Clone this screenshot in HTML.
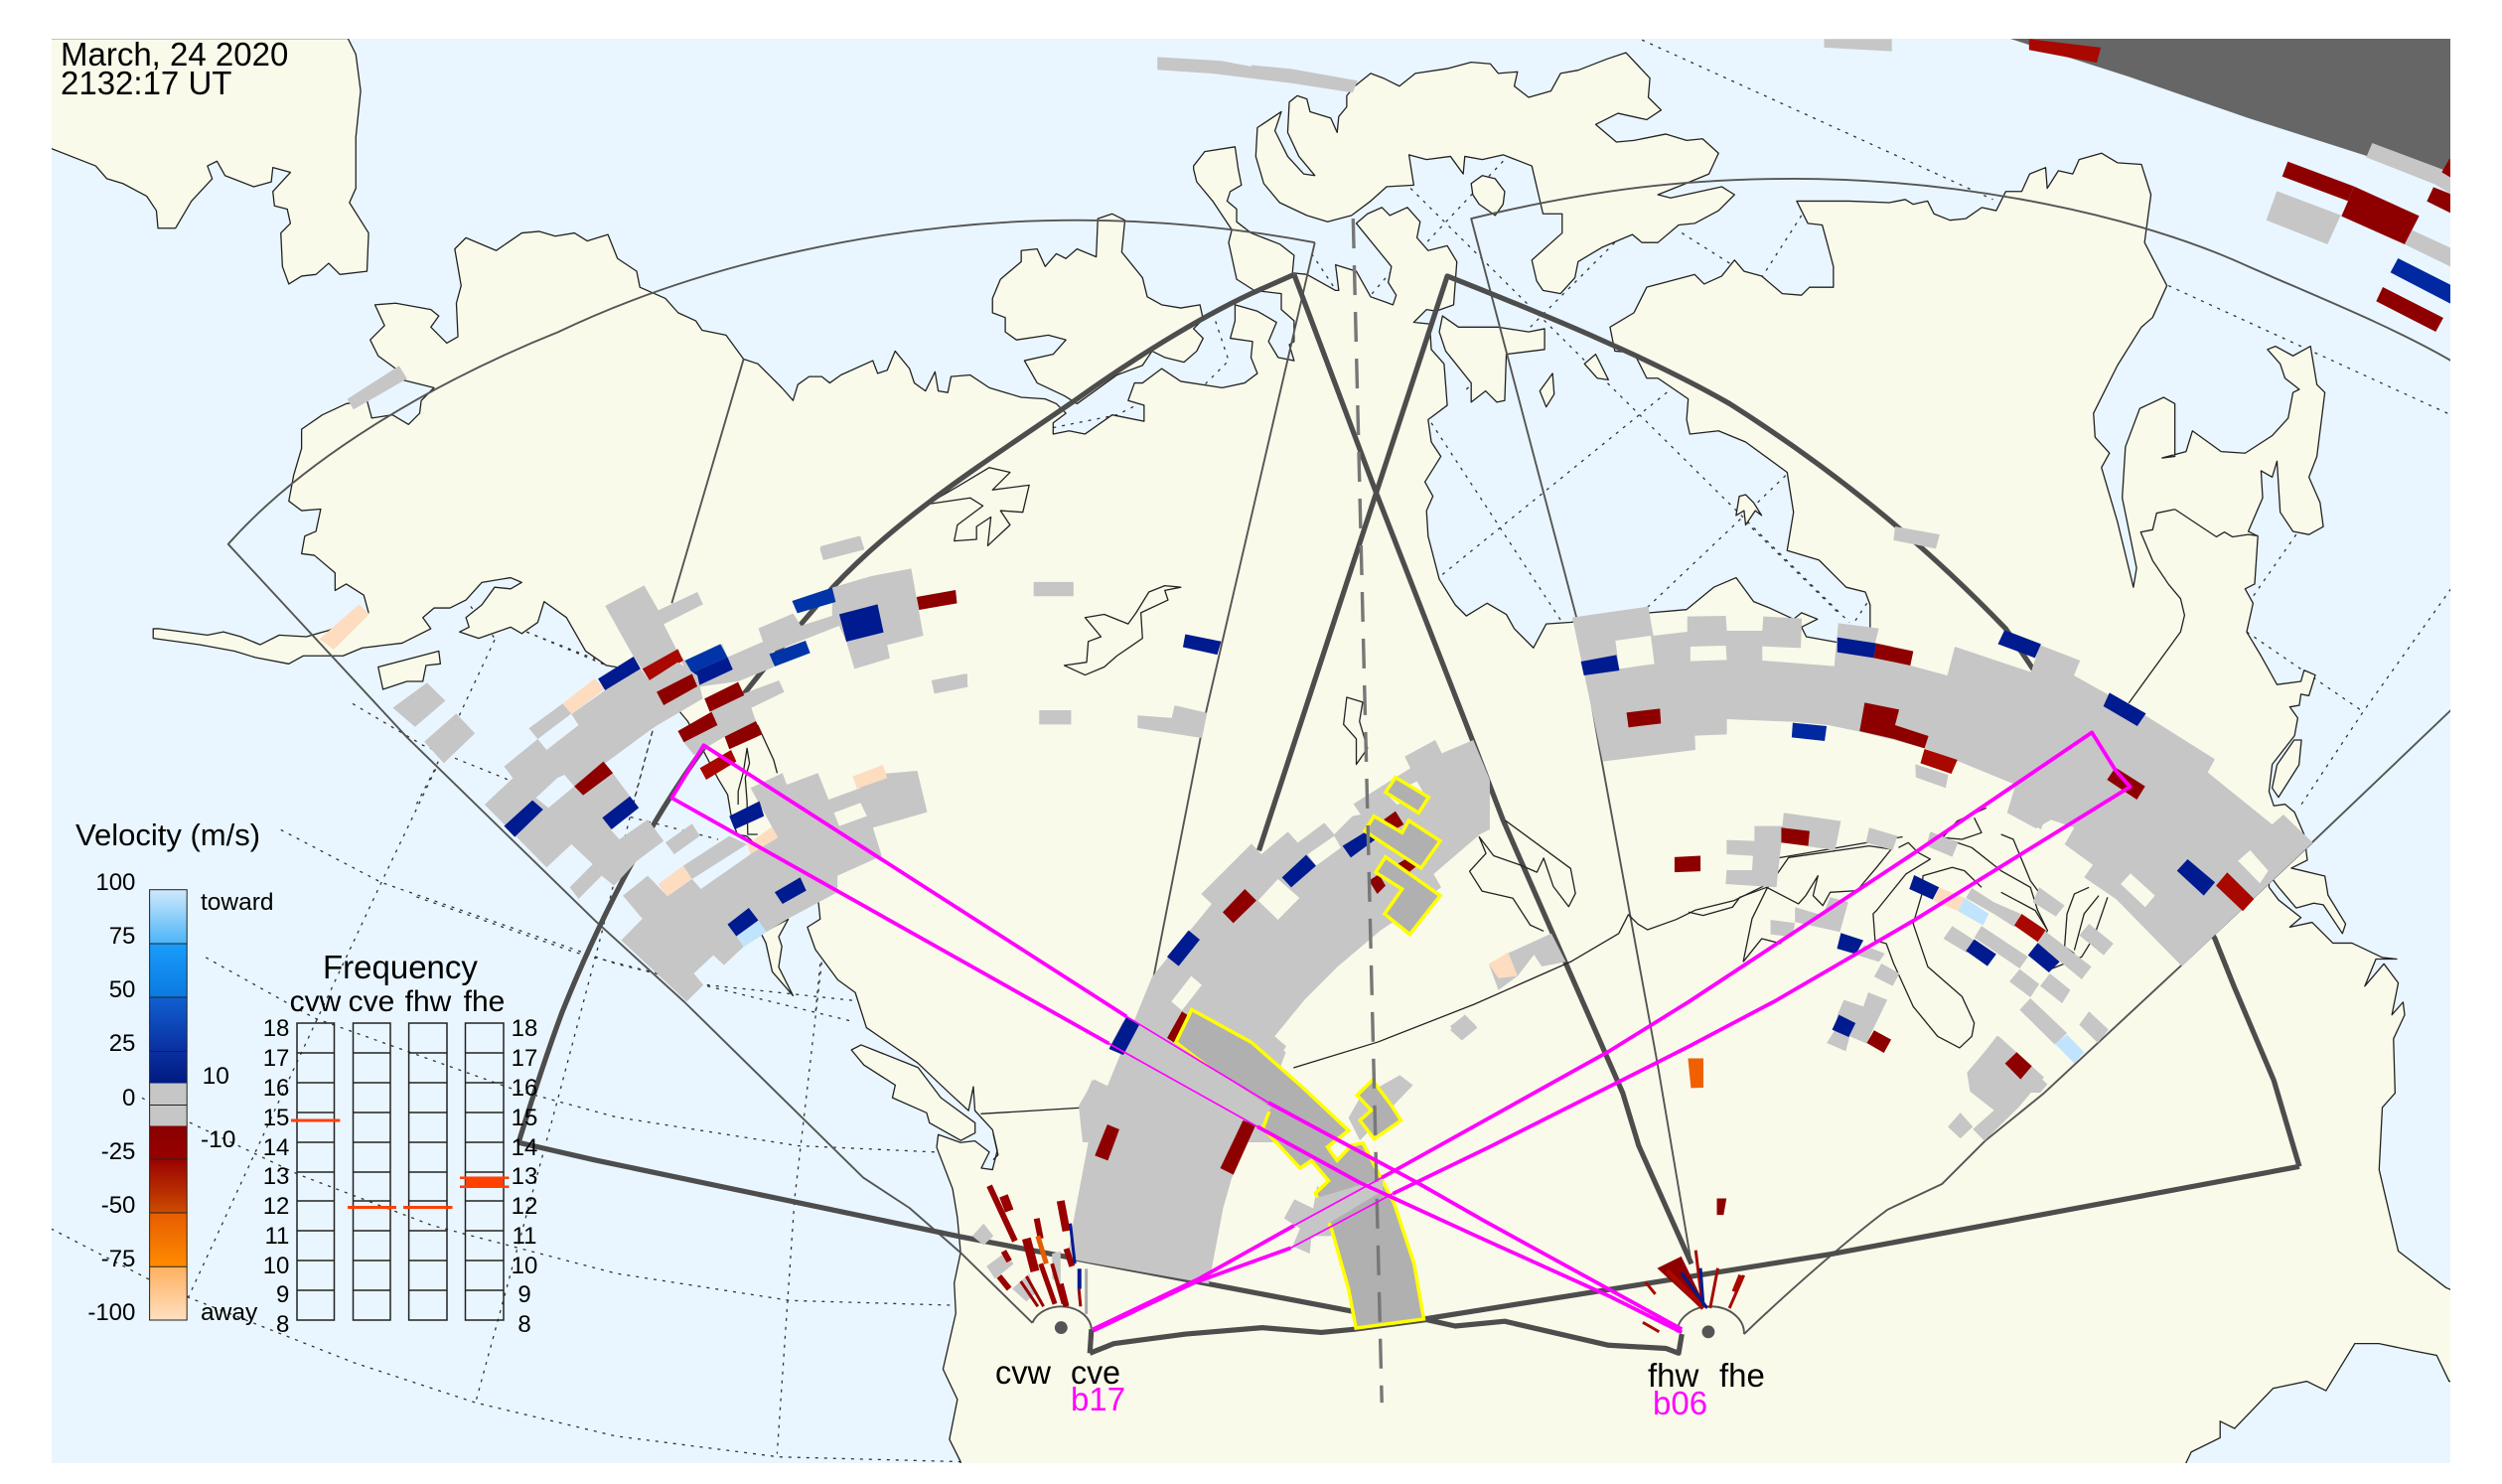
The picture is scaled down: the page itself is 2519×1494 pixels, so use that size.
<!DOCTYPE html>
<html><head><meta charset="utf-8"><title>SuperDARN map</title>
<style>
html,body{margin:0;padding:0;background:#fff}
svg{display:block}
text{font-family:"Liberation Sans",sans-serif;fill:#000}
polygon,polyline,path,line,circle,ellipse{vector-effect:non-scaling-stroke}
.g{fill:#c6c6c6}.r{fill:#8e0000}.r2{fill:#a80800}.b{fill:#001a8f}.m{fill:#0034a8}.p{fill:#fddcc0}.l{fill:#c0e4fd}.h{fill:#f9faea}.w{fill:#e9f6ff}
.y{fill:#b0b0b0;stroke:#ff0;stroke-width:3.5;stroke-linejoin:miter}
.land{fill:#f9faea;stroke:#222;stroke-width:1.3;stroke-linejoin:round}
.ln{fill:none;stroke:#222;stroke-width:1.3;stroke-linejoin:round}
.grid{fill:none;stroke:#333;stroke-width:1.3;stroke-dasharray:3 6}
.thin{fill:none;stroke:#555;stroke-width:1.9;stroke-linejoin:round}
.thick{fill:none;stroke:#4d4d4d;stroke-width:5.2;stroke-linejoin:round}
.mag{fill:none;stroke:#f0f;stroke-width:3.8;stroke-linejoin:round}
.mag2{fill:none;stroke:#f0f;stroke-width:1.7}
.v{fill:none;stroke:#990000}
</style></head><body>
<svg xmlns="http://www.w3.org/2000/svg" width="2519" height="1494" viewBox="0 0 2519 1494">
<defs>
<clipPath id="c"><rect x="52" y="39" width="2415" height="1434"/></clipPath>
<linearGradient id="vg" x1="0" y1="0" x2="0" y2="1">
<stop offset="0" stop-color="#cfe9fc"/><stop offset=".124" stop-color="#4db5f7"/><stop offset=".124" stop-color="#1a9dfb"/><stop offset=".25" stop-color="#0a7ae0"/><stop offset=".25" stop-color="#1060d0"/><stop offset=".376" stop-color="#0a2fa0"/><stop offset=".45" stop-color="#001a80"/><stop offset=".45" stop-color="#c6c6c6"/><stop offset=".549" stop-color="#c6c6c6"/><stop offset=".549" stop-color="#880000"/><stop offset=".625" stop-color="#990000"/><stop offset=".75" stop-color="#cc4c00"/><stop offset=".75" stop-color="#e65c00"/><stop offset=".876" stop-color="#ff8c00"/><stop offset=".876" stop-color="#ffb060"/><stop offset="1" stop-color="#ffe0c0"/>
</linearGradient>
</defs>
<rect width="2519" height="1494" fill="#fff"/>
<g clip-path="url(#c)">
<rect x="52" y="39" width="2415" height="1434" class="w"/>
<g transform="scale(1.6065)">
<!-- grid -->
<polyline class="grid" points="176,520 239,553 386,604 534,640"/>
<polyline class="grid" points="129,600 197,638 323,683 386,700 500,718 587,722"/>
<polyline class="grid" points="89,688 118,703 187,736 271,768 386,798 495,815 598,818"/>
<polyline class="grid" points="32,770 94,802 118,813 222,854 298,879 386,900 488,913 602,916"/>
<polyline class="grid" points="273,482 239,553 185,668 118,813"/>
<polyline class="grid" points="409,458 395,511 377,585 349,691 320,798 298,879"/>
<polyline class="grid" points="515,603 498,751 487,911"/>
<polyline class="grid" points="221,441 265,467 317,488 361,510 395,512 450,526"/>
<polyline class="grid" points="310,401 288,448 272,483 261,504"/>
<polyline class="grid" points="330,396 373,413"/>
<polyline class="grid" points="410,454 395,510"/>
<polyline class="grid" points="261,562 361,597 408,609 441,617 535,627"/>
<polyline class="grid" points="514,604 511,635"/>
<polyline class="grid" points="295,380 310,400"/>
<polyline class="grid" points="330,396 380,417"/>
<polyline class="grid" points="1029,25 1249,125"/>
<polyline class="grid" points="1359,179 1536,260"/>
<polyline class="grid" points="1439,335 1409,378"/>
<polyline class="grid" points="1536,369 1481,446 1441,506"/>
<polyline class="grid" points="1408,396 1481,446"/>
<polyline class="grid" points="897,265 979,390"/>
<polyline class="grid" points="904,360 1047,244"/>
<polyline class="grid" points="919,244 959,205 1012,152"/>
<polyline class="grid" points="942,101 894,152"/>
<polyline class="grid" points="884,118 1159,390"/>
<polyline class="grid" points="1054,146 1084,165"/>
<polyline class="grid" points="1129,135 1104,174"/>
<polyline class="grid" points="1119,298 1089,327 1032,381"/>
<polyline class="grid" points="1094,327 1152,384"/>
<polyline class="grid" points="1170,378 1156,399"/>
<polyline class="grid" points="822,159 836,180"/>
<polyline class="grid" points="872,170 859,185"/>
<polyline class="grid" points="760,196 770,226 755,241"/>
<polyline class="grid" points="660,268 700,260 712,254"/>
<!-- land -->
<polygon class="land" points="32,93 60,104 67,112 77,115 92,123 98,132 99,143 110,143 120,126 133,112 130,104 136,101 141,110 159,117 170,114 171,105 182,108 171,120 172,129 180,131 182,140 176,146 177,167 181,178 189,173 198,172 206,165 213,172 230,170 231,146 219,127 223,118 223,86 226,57 223,34 218,24 20,24 20,93"/>
<polygon class="land" points="285,156 292,149 311,157 327,146 338,145 348,148 360,146 368,151 381,147 387,162 399,170 401,180 417,187 425,196 436,201 440,207 455,210 466,225 475,228 490,243 497,251 500,241 507,236 515,236 520,240 527,235 547,226 550,234 556,232 561,220 570,231 573,240 580,245 586,233 588,245 594,246 596,236 608,235 620,243 640,249 655,250 662,253 668,259 660,265 660,272 670,270 680,272 697,260 717,264 717,254 707,251 711,240 716,240 728,231 740,239 766,243 780,240 788,234 784,224 785,214 771,212 774,201 774,191 788,195 800,202 795,214 801,224 811,226 808,216 811,214 811,201 803,194 803,184 786,182 775,175 770,152 772,144 760,126 750,114 748,106 748,104 755,95 774,92 776,106 778,116 771,120 769,126 775,131 775,139 784,146 802,153 811,160 810,171 819,172 837,182 839,182 837,166 850,170 859,186 873,191 875,185 870,177 872,167 850,140 857,134 866,130 871,135 882,130 890,139 888,149 895,157 907,154 913,164 911,191 900,195 894,194 886,202 896,203 897,219 905,228 907,254 895,263 897,277 903,286 893,302 898,311 894,320 895,336 902,363 912,379 919,386 932,378 944,385 949,394 961,406 969,391 984,390 1034,384 1057,382 1074,368 1088,362 1099,377 1109,381 1124,388 1129,384 1139,388 1129,393 1132,399 1154,403 1172,400 1172,379 1169,371 1157,368 1140,351 1120,345 1124,321 1120,296 1094,277 1077,270 1059,272 1057,263 1058,250 1039,237 1032,237 1024,221 1012,220 1009,205 1024,196 1032,180 1062,172 1068,178 1079,173 1087,163 1093,170 1104,173 1117,184 1129,185 1134,180 1149,180 1149,167 1145,152 1142,141 1133,140 1126,126 1159,126 1184,127 1194,125 1199,128 1208,126 1212,134 1222,138 1232,137 1242,130 1251,132 1257,120 1267,120 1272,109 1282,105 1283,118 1290,107 1299,109 1303,100 1317,96 1327,102 1342,103 1348,122 1344,152 1358,179 1349,199 1342,205 1327,229 1312,259 1313,274 1322,284 1317,293 1327,327 1337,368 1339,356 1330,312 1332,280 1341,256 1356,249 1363,253 1363,286 1355,287 1370,283 1374,270 1392,283 1407,284 1424,273 1434,262 1437,246 1441,244 1432,237 1429,228 1421,219 1426,217 1437,223 1448,217 1452,241 1457,246 1452,286 1447,299 1454,315 1456,330 1447,335 1437,333 1429,321 1427,289 1424,299 1417,295 1418,312 1409,333 1415,336 1413,366 1407,369 1412,378 1408,396 1417,411 1422,420 1427,429 1442,427 1444,420 1451,423 1447,436 1442,435 1441,442 1435,443 1440,450 1438,461 1424,479 1422,496 1425,505 1432,504 1438,509 1444,523 1446,539 1436,544 1457,549 1459,561 1470,579 1468,585 1456,567 1450,566 1439,569 1428,556 1422,548 1422,556 1428,564 1442,575 1435,581 1449,578 1462,591 1474,591 1493,600 1502,601 1489,601 1482,618 1494,604 1503,616 1499,636 1506,628 1507,636 1500,651 1501,685 1493,694 1491,733 1503,784 1533,807 1545,812 1545,930 602,930 602,916 595,902 600,877 591,858 599,823 598,804 602,785 600,763 597,745 587,719 588,711 602,716 611,715 620,722 615,732 622,733 625,721 622,708 611,696 610,681 607,696 595,685 575,666 559,655 543,644 536,622 525,614 511,595 506,581 514,576 513,566 485,540 468,524 462,523 458,510 456,498 450,488 439,467 431,452 426,446 386,418 380,417 367,408 355,387 341,377 337,390 327,397 320,393 300,400 288,396 294,393 292,387 302,379 310,368 320,369 327,365 320,362 302,365 292,376 282,381 272,381 265,387 270,394 252,403 227,406 215,411 190,411 181,416 160,412 147,408 125,404 96,400 96,394 100,394 130,398 140,396 151,399 163,404 175,398 192,399 206,395 231,384 228,373 217,366 210,370 210,359 197,348 189,347 191,336 198,333 201,319 189,320 181,314 184,298 189,281 189,269 202,260 217,253 230,251 233,262 246,260 256,266 263,259 264,251 272,243 252,238 248,231 237,223 232,213 241,204 235,191 248,190 270,194 275,198 270,205 280,215 287,211 286,190 289,179"/>
<polygon class="land" points="844,60 849,54 859,46 867,49 877,54 887,46 907,43 922,39 934,40 939,46 951,45 949,54 958,61 972,57 978,46 989,44 1007,37 1019,33 1034,49 1033,61 1041,69 1032,75 1014,71 1000,78 1013,89 1024,88 1044,84 1057,88 1067,87 1077,96 1071,109 1054,116 1039,122 1047,124 1079,117 1087,122 1077,132 1062,140 1052,141 1039,152 1029,152 1023,147 1004,155 989,164 987,174 978,184 967,182 963,176 960,163 979,146 979,134 967,134 960,104 942,97 929,100 918,98 917,109 909,98 894,100 883,97 886,116 869,117 859,126 847,135 832,139 819,135 802,127 792,115 787,98 788,80 803,70 799,82 807,98 817,109 824,110 814,98 807,83 808,64 813,60 819,62 821,70 834,74 838,83 839,73 844,67"/>
<polygon class="land" points="752,191 754,200 748,206 754,212 750,220 742,227 730,224 722,220 716,229 700,235 675,253 667,248 650,240 642,226 660,222 668,213 657,210 637,213 630,208 630,199 622,196 622,187 627,175 640,164 640,157 650,156 655,167 662,159 668,162 675,156 687,161 688,137 697,134 705,138 703,158 716,174 719,186 728,191 740,193"/>
<polygon class="land" points="904,198 914,205 939,205 958,208 968,206 968,219 944,222 943,251 938,252 931,245 922,252 922,240 906,220 902,208"/>
<polygon class="land" points="922,115 929,110 937,112 943,120 942,128 937,135 927,128 923,122"/>
<polygon class="land" points="1000,222 1008,238 1001,237 993,228"/>
<polygon class="land" points="973,234 974,247 969,255 965,245"/>
<polygon class="land" points="1094,310 1099,315 1104,323 1100,320 1094,329 1093,320 1088,323 1090,311"/>
<polygon class="land" points="237,418 275,408 276,416 267,417 265,427 255,427 240,432"/>
<polygon class="land" points="494,576 488,587 490,593 488,606 497,624 484,609 480,591 477,585"/>
<polygon class="ln" points="620,293 633,296 622,307 645,304 641,321 627,320 633,329 619,342 621,324 612,330 612,338 598,339 600,329 616,317 608,312 581,316 600,305"/>
<polygon class="ln" points="740,368 730,367 720,371 712,384 707,391 692,385 680,387 690,399 682,402 681,415 667,417 680,423 692,418 700,411 716,400 715,384 732,376 730,370"/>
<polygon class="ln" points="844,437 854,440 852,452 857,469 850,479 850,463 842,454"/>
<!-- FOV thin -->
<path class="thin" d="M647 829 L602 785 L570 757 L541 738 L429 628 L373 577 L255 462 L143 341 C190 288 270 240 350 208 C440 165 560 138 675 138 Q750 138 824 152"/>
<polyline class="thin" points="466,225 421,378"/>
<polyline class="thin" points="824,152 754,454 723,612"/>
<path class="thin" d="M988 387 L922 137 C1000 118 1060 112 1124 112 C1230 112 1340 135 1409 167 C1450 185 1500 205 1536 226"/>
<polyline class="thin" points="988,387 1002,467 1039,668 1060,792"/>
<path class="thin" d="M1536 445 L1449 528 L1367 605 L1281 685 L1244 715 L1217 742 L1183 758 C1160 775 1120 810 1093 836"/>
<path class="thin" d="M1051 835 A20 16 0 0 1 1093 836"/>
<path class="thin" d="M647 829 A19 15 0 0 1 684 833"/>
<!-- FOV thick -->
<polyline class="thick" points="683,848 698,842 743,836 791,832 828,835 849,833 894,827 912,831 943,828 1008,843 1044,845 1052,848 1054,836"/>
<polyline class="thick" points="684,833 683,848"/>
<polyline class="thick" points="325,716 373,727 602,775 849,822"/>
<polyline class="thick" points="890,827 1147,786 1441,731"/>
<path class="thick" d="M789 533 L907 173 C975 200 1035 225 1084 253 C1150 295 1205 340 1257 394 L1388 588 L1400 618 L1425 677 L1441 731"/>
<path class="thick" d="M811 172 L784 184 C750 200 710 225 675 250 C620 288 565 322 522 368 C485 410 440 465 410 516 C390 550 370 590 352 635 C342 662 333 690 325 716"/>
<polyline class="thick" points="811,172 861,305 924,467 942,514 981,603 1017,685 1027,718 1060,792"/>
</g>

<!-- bottom right ocean and overlays, Z4 -->
<g transform="translate(1000,750) scale(.9688,.4745)">
<polygon class="w" style="stroke:#222;stroke-width:1.3" points="1238,1530 1245,1500 1275,1470 1275,1435 1290,1450 1330,1365 1365,1350 1385,1370 1400,1320 1415,1270 1440,1270 1475,1285 1500,1295 1513,1350 1530,1350 1530,1530"/>
<polyline class="ln" points="312,685 400,630 500,550 600,460 650,400 660,360 670,380 680,392 710,370 730,350 770,330 800,300 815,240 900,210 945,195"/>
<polyline class="ln" points="532,160 600,262 605,315 598,343 582,300 572,240 565,270 548,255 520,235 505,195 512,230 495,268 508,310 540,325 558,382 572,395"/>
<polyline class="ln" points="0,825 5,870 0,880"/>
</g>
<g transform="translate(1260,0) scale(.8029,.4783)">
<polyline class="ln" points="1158,1072 1135,1080 1130,1115 1115,1120 1130,1180 1150,1230 1165,1260 1170,1295 1165,1330 1100,1480"/>
<polyline class="ln" points="1158,1072 1210,1130 1220,1120 1230,1130 1250,1125 1262,1128"/>
</g>
<g transform="translate(1700,600) scale(.4917,.3333)">
<polygon class="land" points="1240,435 1255,435 1250,510 1208,608 1195,580 1205,510"/>
<polyline class="ln" points="112,1105 130,975 160,885 205,790 370,755 415,765 385,820 345,890 290,895 275,935 255,905 265,845 240,905 225,930 160,880 105,910 90,940 30,965 0,955"/>
<polyline class="ln" points="112,1105 150,1035 190,1050"/>
<polyline class="ln" points="430,760 450,745 470,775 495,795 445,840 385,950 378,960 382,1040 405,1050 420,1110 460,1240 510,1330 555,1365 580,1330 585,1290 560,1210 490,1120 460,990 478,900 480,845 540,820 565,830 600,880"/>
<polyline class="ln" points="490,750 540,740 580,760 640,830 700,880 715,950 735,1010 720,1050"/>
<polyline class="ln" points="610,640 550,680 520,730 560,735 600,715 585,670"/>
<polyline class="ln" points="640,720 665,735 700,860 745,950"/>
<polyline class="ln" points="640,895 710,950 733,1005"/>
<polyline class="ln" points="820,880 790,900 775,960 770,1060 790,1080"/>
<polyline class="ln" points="858,910 830,1030 805,1090 745,1125"/>
<polyline class="ln" points="840,905 810,960 790,1070"/>
</g>
<g transform="translate(600,700) scale(.574,.5064)">
<polygon class="land" points="448,705 465,695 565,740 605,800 665,850 665,870 640,885 585,850 580,830 520,800 525,775 470,735"/>
<polyline class="ln" points="675,832 850,820"/>
</g>
<g transform="translate(420,520) scale(.3571,.3333)">
<polyline class="ln" points="905,870 905,830 920,770 930,700 937,745 925,790 930,860 932,960 960,960"/>
<polyline class="ln" points="960,630 1005,735 1015,775"/>
</g>

<!-- dark area -->
<g transform="scale(1.6065)"><polygon fill="#666" points="1259,24 1540,24 1540,121 1484,98 1409,74 1334,48"/></g>

<!-- top cells Z2 -->
<g transform="scale(.8036,.4783)">
<polygon class="g" points="435,840 500,770 510,797 443,862"/>
<polygon class="p" points="400,1345 450,1272 463,1292 418,1367"/>
<polygon class="g" points="1028,1150 1077,1128 1083,1155 1033,1178"/>
<polygon class="g" points="1295,1225 1345,1225 1345,1255 1295,1255"/>
<polygon class="g" points="1168,1432 1212,1418 1212,1445 1172,1458"/>
<polygon class="g" points="1302,1495 1342,1495 1342,1525 1302,1525"/>
<polygon class="b" points="1485,1335 1530,1350 1525,1378 1482,1362"/>
<polygon class="g" points="1450,120 1530,128 1568,140 1568,165 1520,155 1450,147"/>
<polygon class="g" points="492,1490 535,1437 558,1475 520,1530"/>
</g>
<g transform="translate(1260,0) scale(.8029,.4783)">
<polygon class="g" points="0,137 50,145 133,170 127,195 50,175 0,165"/>
<polygon class="g" points="718,82 803,82 803,108 718,100"/>
<polygon class="r2" points="975,82 1065,100 1060,132 975,105"/>
<polygon class="g" points="807,1108 863,1125 858,1155 805,1137"/>
</g>
<g transform="translate(2260,30) scale(.3333)">
<polygon class="g" points="385,342 625,432 625,497 575,467 367,385"/>
<polygon class="r" points="130,398 330,473 312,517 113,443"/>
<polygon class="r" points="330,473 527,562 483,648 292,563 312,517"/>
<polygon class="g" points="97,487 290,560 250,648 65,575"/>
<polygon class="g" points="505,605 625,660 625,717 483,648"/>
<polygon fill="#0028a0" points="463,690 625,772 625,829 440,733"/>
<polygon class="r" points="417,777 600,870 577,912 397,820"/>
<polygon class="r" points="618,390 625,392 625,448 595,430"/>
<polygon class="r" points="570,475 625,497 625,555 550,518"/>
</g>

<!-- left band Z8 -->
<g transform="translate(420,520) scale(.3571,.3333)">
<polygon class="g" points="20,680 110,595 163,655 75,745"/>
<polygon class="g" points="530,270 640,208 680,283 790,228 806,265 695,325 735,410 755,435 860,385 875,425 975,378 962,338 1060,293 1082,330 1170,300 1170,215 1280,180 1393,157 1427,360 1325,388 1333,428 1233,460 1210,378 1190,330 1000,410 1005,455 905,498 790,515 745,440 640,470 610,423"/>
<polygon class="g" points="315,640 410,565 435,595 340,672"/>
<polygon class="p" points="410,565 500,490 530,520 435,597"/>
<polygon class="b" points="510,490 610,423 630,460 530,525"/>
<polygon class="r2" points="635,460 735,400 750,435 655,495"/>
<polygon class="m" points="755,435 855,385 875,425 775,472"/>
<polygon class="b" points="775,472 875,425 890,462 790,512"/>
<polygon class="g" points="245,755 340,672 365,705 455,630 435,597 530,525 630,460 655,495 735,440 790,480 805,550 670,635 530,745 600,845 545,945 570,975 650,915 695,980 620,1040 555,1115 520,1085 455,1155 430,1120 495,1050 435,990 365,1060 190,870 270,790"/>
<polygon class="w" points="335,850 395,790 415,780 443,815 370,880"/>
<polygon class="r" points="443,815 525,740 552,775 468,842"/>
<polygon class="b" points="245,935 325,857 355,885 275,968"/>
<polygon class="b" points="522,910 600,845 625,880 548,945"/>
<polygon class="g" points="700,985 775,928 797,965 725,1020"/>
<polygon class="g" points="750,680 847,628 810,550 905,505 920,535 1020,495 1035,530 942,578 955,618 867,665 780,720"/>
<polygon class="r" points="675,530 775,475 790,513 695,570"/>
<polygon class="r" points="810,550 905,500 922,540 825,590"/>
<polygon class="r" points="735,648 830,590 847,630 752,682"/>
<polygon class="r" points="867,665 955,618 973,658 880,703"/>
<polygon class="r2" points="797,760 885,705 900,740 815,795"/>
<polygon class="g" points="1135,95 1250,60 1260,100 1145,132"/>
<polygon class="g" points="1450,495 1545,475 1553,515 1458,535"/>
<polygon class="m" points="1057,255 1170,215 1180,258 1072,292"/>
<polygon class="r" points="1408,243 1518,222 1522,262 1415,282"/>
<polygon class="b" points="1190,295 1298,265 1315,350 1210,378"/>
<polygon class="m" points="993,415 1095,375 1108,412 1008,453"/>
<polygon class="g" points="580,1145 650,1085 700,1140 775,1095 800,1125 940,1020 940,1000 1017,970 940,820 1030,775 1042,810 1130,775 1160,855 1250,820 1230,785 1410,768 1438,893 1285,940 1310,1025 1185,1085 1185,1135 1045,1215 985,1255 920,1300 865,1355 835,1325 780,1380 807,1415 760,1465 575,1280 635,1215"/>
<polygon class="g" points="750,1055 880,965 930,990 775,1095"/>
<polygon class="p" points="680,1110 750,1055 775,1095 705,1148"/>
<polygon class="p" points="930,990 1000,938 1017,970 940,1020"/>
<polygon class="p" points="1228,785 1313,750 1325,790 1240,822"/>
<polygon class="h" points="1175,895 1250,865 1268,905 1190,935"/>
<polygon class="b" points="880,905 965,860 978,905 895,945"/>
<polygon class="b" points="1008,1135 1080,1090 1097,1130 1030,1170"/>
<polygon class="b" points="875,1232 935,1182 962,1220 900,1268"/>
<polygon class="l" points="900,1268 962,1220 985,1255 920,1300"/>
</g>

<!-- Cells Z5 -->
<g transform="translate(600,700) scale(.574,.5064)">
<polygon class="g" points="950,40 1010,45 1015,20 1072,35 1063,85 950,65"/>
<polygon class="g" points="870,765 900,780 1190,690 1210,710 1180,800 1155,860 1115,960 1100,1020 1075,1170 827,1120 835,1060 870,850 848,825"/>
<polygon class="g" points="1207,1040 1225,1002 1258,1020 1265,975 1280,1000 1290,1075 1255,1075 1252,1110 1222,1095 1235,1060"/>
<polygon class="g" points="1320,840 1340,800 1410,755 1433,775 1395,820 1340,885"/>
<polygon class="g" points="660,1075 680,1050 697,1075 680,1093"/>
<polygon class="g" points="685,1135 715,1110 733,1130 700,1160"/>
<polygon class="g" points="800,1110 815,1105 815,1170 800,1160"/>
<polygon class="g" points="730,1180 760,1150 770,1190 755,1205"/>
<line class="v" x1="690" y1="975" x2="735" y2="1085" stroke-width="6"/>
<line class="v" x1="715" y1="995" x2="725" y2="1025" stroke-width="9"/>
<line class="v" x1="773" y1="1040" x2="780" y2="1080" stroke-width="6"/>
<line class="v" x1="755" y1="1080" x2="770" y2="1145" stroke-width="9"/>
<line x1="775" y1="1075" x2="790" y2="1130" stroke="#e65c00" stroke-width="5"/>
<line class="v" x1="780" y1="1130" x2="805" y2="1210" stroke-width="5"/>
<line class="v" x1="800" y1="1130" x2="820" y2="1210" stroke-width="4"/>
<line class="v" x1="715" y1="1105" x2="725" y2="1125" stroke-width="6"/>
<line class="v" x1="707" y1="1155" x2="725" y2="1180" stroke-width="6"/>
<line class="v" x1="745" y1="1165" x2="775" y2="1215" stroke-width="3"/>
<line class="v" x1="755" y1="1155" x2="785" y2="1215" stroke-width="3"/>
<line class="v" x1="815" y1="1005" x2="825" y2="1065" stroke-width="8"/>
<line class="v" x1="825" y1="1100" x2="835" y2="1135" stroke-width="6"/>
<line class="v" x1="815" y1="1170" x2="825" y2="1215" stroke-width="6"/>
<line class="v" x1="847" y1="1180" x2="850" y2="1215" stroke-width="3"/>
<line x1="848" y1="1140" x2="848" y2="1180" stroke="#001a8f" stroke-width="4"/>
<line x1="832" y1="1050" x2="840" y2="1130" stroke="#001a8f" stroke-width="3"/>
<line x1="860" y1="1140" x2="860" y2="1230" stroke="#aaa" stroke-width="3"/>
</g>
<!-- Z11 central band -->
<g transform="translate(1080,730) scale(.3333)">
<polygon class="g" points="18,1150 65,1070 105,1090 240,760 420,540 388,510 540,358 570,390 650,322 680,355 760,295 790,330 845,275 870,270 848,238 1020,130 1003,95 1095,45 1115,85 1210,45 1260,165 1260,315 1230,330 1090,450 1113,490 1020,560 930,620 800,730 700,830 610,940 645,970 620,1010 700,1260 30,1260"/>
<polygon class="h" points="560,530 620,465 685,522 620,588"/>
<polygon class="h" points="298,835 358,758 390,785 330,862"/>
<polygon class="h" points="710,390 790,335 810,370 735,425"/>
<polygon class="h" points="950,210 1040,170 1060,205 980,240"/>
<polygon class="g" points="1140,910 1185,875 1220,910 1172,950"/>
<polygon class="r" points="975,260 1000,300 965,320 940,285"/>
<polygon class="r" points="1005,405 1040,425 1015,445 980,420"/>
<polygon class="r" points="895,470 925,450 945,485 920,510"/>
<polygon class="b" points="815,365 880,325 915,345 840,400"/>
<polygon class="b" points="632,460 705,392 735,425 660,490"/>
<polygon class="r" points="520,495 555,530 485,598 453,565"/>
<polygon class="b" points="350,620 384,648 320,728 285,700"/>
<polygon class="r" points="330,865 350,878 315,965 285,945"/>
<polygon class="y" points="975,158 1075,218 1045,265 945,203"/>
<polygon class="y" points="910,275 995,325 1015,288 1110,350 1052,432 882,320"/>
<polygon class="y" points="945,398 1110,515 1018,632 942,570 995,495 915,445"/>
</g>
<!-- yellow big Z5 -->
<g transform="translate(600,700) scale(.574,.5064)">
<polygon class="r" points="897,853 918,863 898,925 875,915"/>
<polygon class="r" points="1135,845 1157,855 1118,953 1095,940"/>
<polygon class="y" points="1045,625 1017,690 1180,830 1170,860 1235,940 1255,925 1285,965 1262,990 1290,1060 1320,1180 1333,1258 1452,1240 1435,1130 1400,1010 1345,890 1325,895 1300,925 1283,898 1320,865 1240,780 1150,690"/>
<polygon class="y" points="1362,765 1395,815 1412,845 1365,882 1340,845 1360,825 1335,795"/>
<polygon class="g" points="1262,1000 1380,960 1380,985 1270,1060"/>
<polygon class="g" points="925,648 1000,680 1185,820 1160,852 900,700"/>
<polygon class="b" points="930,640 953,655 925,715 900,703"/>
</g>

<!-- small cluster/other grey before fan details -->
<g transform="translate(1000,750) scale(.9688,.4745)">
<polygon class="g" points="1012,695 1045,618 1092,705 1065,770 1030,840 1018,815 1040,775 1015,735"/>
<polygon class="g" points="992,810 1005,780 1018,810 1005,835"/>
<polygon class="g" points="537,440 580,400 595,460 570,470 562,445 545,490 525,520 515,465"/>
<polygon class="p" points="515,465 535,440 545,490 525,495"/>
<polygon class="g" points="475,605 490,572 503,600 487,627"/>
<polygon fill="#f06000" points="722,665 738,665 738,727 725,728"/>
<polygon class="r" points="708,238 735,235 735,268 708,270"/>
<polygon class="r" points="752,962 762,962 759,997 752,997"/>
<polygon class="r" points="690,1110 715,1085 740,1190 735,1195"/>
<line x1="700" y1="1115" x2="738" y2="1195" stroke="#a80800" stroke-width="5"/>
<line x1="730" y1="1072" x2="737" y2="1190" stroke="#a80800" stroke-width="3"/>
<line x1="753" y1="1110" x2="745" y2="1195" stroke="#a80800" stroke-width="3"/>
<line x1="780" y1="1125" x2="765" y2="1195" stroke="#a80800" stroke-width="3"/>
<line x1="777" y1="1125" x2="770" y2="1160" stroke="#a80800" stroke-width="5"/>
<line x1="735" y1="1110" x2="738" y2="1190" stroke="#001a8f" stroke-width="3"/>
<line x1="715" y1="1120" x2="742" y2="1195" stroke="#001a8f" stroke-width="3"/>
<line x1="678" y1="1140" x2="688" y2="1165" stroke="#a80800" stroke-width="3"/>
<line x1="675" y1="1225" x2="692" y2="1245" stroke="#a80800" stroke-width="3"/>
</g>

<!-- right fan Z9 + Z7 -->
<g transform="translate(1560,580) scale(.5102,.3333)">
<polygon class="g" points="45,125 195,92 205,180 272,168 272,122 348,120 350,165 420,165 422,122 498,128 496,217 420,212 420,255 562,272 570,142 650,158 642,205 718,227 712,270 785,300 800,213 950,290 968,208 1047,255 1035,300 1105,360 1175,420 1313,553 1298,595 1100,640 960,762 903,715 920,630 800,555 740,520 680,495 612,470 550,450 480,440 350,432 350,478 287,482 288,525 105,560"/>
<polygon class="h" points="130,195 200,180 207,265 138,280"/>
<polygon class="h" points="278,213 348,210 350,253 278,257"/>
<polygon class="b" points="62,258 132,238 138,285 68,300"/>
<polygon class="r" points="152,412 218,400 220,445 156,457"/>
<polygon class="b" points="568,185 645,203 640,247 568,230"/>
<polygon class="r" points="645,203 718,227 712,270 640,247"/>
<polygon fill="#0028a0" points="480,443 547,453 543,498 478,487"/>
<polygon class="r" points="622,382 690,403 682,450 748,483 740,520 680,492 612,468"/>
<polygon class="g" points="722,568 787,600 782,640 723,608"/>
<polygon class="r2" points="740,522 805,555 793,597 732,565"/>
<polygon class="b" points="885,205 898,163 970,205 958,247"/>
<polygon class="b" points="1105,352 1177,415 1160,453 1093,393"/>
<polygon class="r" points="1145,495 1212,560 1195,598 1130,535"/>
</g>
<g transform="translate(1700,600) scale(.4917,.3333)">
<polygon class="g" points="1065,535 1195,690 1218,660 1278,745 1010,1118 875,915 810,850 828,812 770,750 790,700 730,670 722,705 655,650 680,570 830,400 1000,450"/>
<polygon class="h" points="885,870 905,838 955,905 935,940"/>
<polygon class="h" points="1125,800 1150,768 1187,830 1170,868"/>
<polygon class="b" points="1000,830 1022,795 1078,865 1055,905"/>
<polygon class="r2" points="1080,875 1103,835 1158,915 1135,952"/>
<polygon class="r" points="874,518 935,575 918,615 857,555"/>
<polygon class="g" points="135,695 192,695 195,655 312,680 300,768 190,745 180,880 76,870 78,828 130,828 132,785 78,780 78,737 135,740"/>
<polygon class="r" points="190,700 248,710 245,755 190,745"/>
<polygon class="g" points="370,700 428,725 418,768 363,745"/>
<polygon class="g" points="495,712 552,745 540,788 487,755"/>
<polygon class="g" points="168,978 218,988 212,1030 168,1022"/>
<polygon class="g" points="218,940 275,965 290,910 327,925 310,1015 218,985"/>
<polygon class="b" points="312,1018 358,1040 343,1082 304,1065"/>
<polygon class="g" points="345,1085 360,1055 402,1080 390,1105"/>
<polygon class="g" points="395,1110 432,1140 418,1178 380,1150"/>
<polygon class="b" points="462,843 513,880 500,917 452,885"/>
<polygon class="p" points="513,880 565,912 552,952 502,920"/>
<polygon class="l" points="565,912 615,960 603,995 552,952"/>
<polygon class="g" points="580,882 625,925 680,960 667,1000 625,960 568,912"/>
<polygon class="r2" points="682,960 732,1010 715,1045 667,995"/>
<polygon class="g" points="730,1012 825,1120 805,1158 715,1048"/>
<polygon class="b" points="715,1048 760,1105 738,1137 695,1085"/>
<polygon class="g" points="540,997 585,1040 570,1078 522,1035"/>
<polygon class="g" points="600,997 695,1090 678,1125 585,1032"/>
<polygon class="b" points="585,1037 630,1082 612,1118 568,1072"/>
<polygon class="g" points="678,1127 718,1172 700,1212 657,1165"/>
<polygon class="g" points="740,1140 782,1190 765,1230 720,1178"/>
<polygon class="g" points="700,1215 775,1320 750,1355 678,1250"/>
<polygon class="l" points="775,1325 810,1378 790,1412 750,1352"/>
<polygon class="g" points="820,1255 860,1310 838,1350 800,1295"/>
<polygon class="g" points="718,880 770,935 752,968 705,925"/>
<polygon class="g" points="820,990 870,1050 850,1085 800,1025"/>
<polygon class="g" points="318,1220 358,1240 368,1197 407,1220 375,1318 365,1352 330,1330 322,1375 283,1350 300,1310 305,1265"/>
<polygon class="b" points="308,1265 342,1290 328,1332 294,1310"/>
<polygon class="r" points="380,1312 415,1340 400,1380 365,1350"/>
<polygon class="g" points="632,1328 735,1475 720,1500 595,1500 605,1480 570,1440 610,1370"/>
<polygon class="r" points="672,1378 703,1420 680,1460 648,1412"/>
</g>

<!-- dashed centre line -->
<g transform="scale(1.6065)">
<polyline points="848,137 866,879" fill="none" stroke="#777" stroke-width="3.4" stroke-dasharray="30 17"/>
<!-- magenta b17 -->
<polyline class="mag" points="685,833 752,801 811,768"/>
<polyline class="mag2" points="811,768 866,738"/>
<polyline class="mag" points="866,738 1008,659 1058,628 1099,601 1202,533 1311,459 1326,483 1335,493 1199,577 1113,627 1058,656 933,719 873,748"/>
<polyline class="mag2" points="873,748 809,782"/>
<polyline class="mag" points="809,782 748,804 685,834"/>
<!-- magenta b06 -->
<polyline class="mag" points="1054,833 930,765 888,741 795,691"/>
<polyline class="mag2" points="795,691 706,637"/>
<polyline class="mag" points="706,637 441,467 421,500 695,654"/>
<polyline class="mag2" points="695,654 788,706"/>
<polyline class="mag" points="788,706 852,741 924,774 1008,812 1054,835"/>
<ellipse cx="665" cy="832" rx="4" ry="4" fill="#555"/>
<ellipse cx="1070.6" cy="834.6" rx="4" ry="4" fill="#555"/>
</g>
</g>

<!-- legend -->
<text x="76" y="851" font-size="31">Velocity (m/s)</text>
<rect x="150.6" y="895.7" width="37.6" height="433.3" fill="url(#vg)" stroke="#222" stroke-width="1"/>
<g stroke="#222" stroke-width="1"><line x1="150.6" x2="188.2" y1="950" y2="950"/><line x1="150.6" x2="188.2" y1="1004" y2="1004"/><line x1="150.6" x2="188.2" y1="1058.5" y2="1058.5"/><line x1="150.6" x2="188.2" y1="1112.5" y2="1112.5"/><line x1="150.6" x2="188.2" y1="1167" y2="1167"/><line x1="150.6" x2="188.2" y1="1221" y2="1221"/><line x1="150.6" x2="188.2" y1="1275.3" y2="1275.3"/></g>
<g font-size="24" text-anchor="end">
<text x="136.4" y="896">100</text><text x="136.4" y="950">75</text><text x="136.4" y="1004">50</text><text x="136.4" y="1058">25</text><text x="136.4" y="1113">0</text><text x="136.4" y="1167">-25</text><text x="136.4" y="1221">-50</text><text x="136.4" y="1275">-75</text><text x="136.4" y="1329">-100</text>
</g>
<g font-size="24.5"><text x="202" y="916">toward</text><text x="203.6" y="1091">10</text><text x="202" y="1155">-10</text><text x="202" y="1329">away</text></g>
<text x="325" y="985" font-size="33">Frequency</text>
<g font-size="30" text-anchor="middle"><text x="317.5" y="1018">cvw</text><text x="374" y="1018">cve</text><text x="431" y="1018">fhw</text><text x="487.5" y="1018">fhe</text></g>
<g fill="none" stroke="#222" stroke-width="1.5">
<rect x="299" y="1030" width="37.5" height="299"/><rect x="355.5" y="1030" width="37.5" height="299"/><rect x="411.6" y="1030" width="38.4" height="299"/><rect x="468.5" y="1030" width="38.5" height="299"/>
<path d="M299 1060H336.5M299 1090H336.5M299 1120H336.5M299 1150H336.5M299 1180H336.5M299 1209H336.5M299 1239H336.5M299 1269H336.5M299 1299H336.5M355.5 1060H393M355.5 1090H393M355.5 1120H393M355.5 1150H393M355.5 1180H393M355.5 1209H393M355.5 1239H393M355.5 1269H393M355.5 1299H393M411.6 1060H450M411.6 1090H450M411.6 1120H450M411.6 1150H450M411.6 1180H450M411.6 1209H450M411.6 1239H450M411.6 1269H450M411.6 1299H450M468.5 1060H507M468.5 1090H507M468.5 1120H507M468.5 1150H507M468.5 1180H507M468.5 1209H507M468.5 1239H507M468.5 1269H507M468.5 1299H507"/>
</g>
<g font-size="24" text-anchor="end">
<text x="291.4" y="1043">18</text><text x="291.4" y="1073">17</text><text x="291.4" y="1103">16</text><text x="291.4" y="1133">15</text><text x="291.4" y="1163">14</text><text x="291.4" y="1192">13</text><text x="291.4" y="1222">12</text><text x="291.4" y="1252">11</text><text x="291.4" y="1282">10</text><text x="291.4" y="1311">9</text><text x="291.4" y="1341">8</text>
</g>
<g font-size="24" text-anchor="middle">
<text x="528" y="1043">18</text><text x="528" y="1073">17</text><text x="528" y="1103">16</text><text x="528" y="1133">15</text><text x="528" y="1163">14</text><text x="528" y="1192">13</text><text x="528" y="1222">12</text><text x="528" y="1252">11</text><text x="528" y="1282">10</text><text x="528" y="1311">9</text><text x="528" y="1341">8</text>
</g>
<g fill="#ff4000">
<rect x="293" y="1126.5" width="49.4" height="3"/><rect x="350" y="1214" width="49" height="3"/><rect x="406" y="1214" width="49.5" height="3"/>
<rect x="463" y="1184.5" width="49.5" height="2.5"/><rect x="463" y="1193.5" width="49.5" height="2.5"/><rect x="468.5" y="1186" width="38.5" height="9"/>
</g>

<!-- titles -->
<text x="61" y="66" font-size="33">March, 24 2020</text>
<text x="61" y="95" font-size="33">2132:17 UT</text>
<g font-size="33">
<text x="1002" y="1393" textLength="56" lengthAdjust="spacingAndGlyphs">cvw</text>
<text x="1078" y="1393" textLength="50" lengthAdjust="spacingAndGlyphs">cve</text>
<text x="1078" y="1420" style="fill:#f0f">b17</text>
<text x="1659" y="1396">fhw</text>
<text x="1731" y="1396">fhe</text>
<text x="1664" y="1424" style="fill:#f0f">b06</text>
</g>
</svg>
</body></html>
